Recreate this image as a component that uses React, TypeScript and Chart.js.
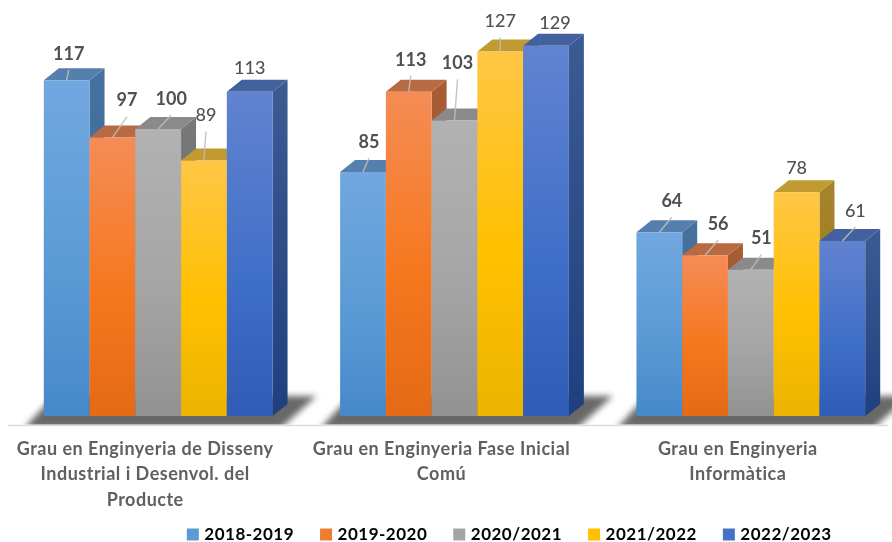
import React, { useEffect, useRef } from "react";
import { Chart, registerables } from "chart.js";

Chart.register(...registerables);

const categories = [
  ["Grau en Enginyeria de Disseny", "Industrial i Desenvol. del", "Producte"],
  ["Grau en Enginyeria Fase Inicial", "Comú"],
  ["Grau en Enginyeria", "Informàtica"],
];
const series = ["2018-2019", "2019-2020", "2020/2021", "2021/2022", "2022/2023"];
const v2018 = [117, 85, 64];
const v2019 = [97, 113, 56];
const v2020 = [100, 103, 51];
const v2021 = [89, 127, 78];
const v2022 = [113, 129, 61];
const values = [v2018, v2019, v2020, v2021, v2022];

// [front top, front mid, front bottom, side top, side bottom, top face, legend]
const palette = [
  ["#72a7e0", "#5b9bd5", "#4689cb", "#46719f", "#2f659f", "#5580ad", "#5b9bd5"],
  ["#f58c56", "#f5781f", "#e56a15", "#a65c34", "#a3521f", "#b86a40", "#ed7d31"],
  ["#b2b2b2", "#a5a5a5", "#929292", "#787878", "#666666", "#8a8a8a", "#a5a5a5"],
  ["#ffc645", "#ffc000", "#ecb400", "#a5832a", "#9a7a12", "#c29a32", "#ffc000"],
  ["#6183d0", "#4170c8", "#2e5cb6", "#3c5a92", "#1f3f7f", "#43609f", "#4472c4"],
];

// Label placement relative to each bar's top centre: [dx, dy, has leader line]
const labelPlacement: [number, number, boolean][][] = [
  [[2, -26, true], [6, -30, true], [12.5, -31, true]],
  [[14.5, -37, true], [2, -32, true], [13, -31, true]],
  [[13, -30, true], [3, -57, true], [10.5, -31, true]],
  [[2, -45, true], [0, -30, true], [0, -24, false]],
  [[0, -24, false], [9, -23, false], [13, -30, true]],
];
const boldSeries = [true, true, true, false, false];

const FONT = "Lato, 'Open Sans', sans-serif";
const DEPTH_X = 15;
const DEPTH_Y = 12;
const FLOOR_Y = 424.5;

function drawFaces(ctx: any, meta: any, colors: string[]) {
  meta.data.forEach((bar: any) => {
    const l = bar.x - bar.width / 2;
    const r = bar.x + bar.width / 2;
    const grad = ctx.createLinearGradient(0, bar.y, 0, bar.base);
    grad.addColorStop(0, colors[3]);
    grad.addColorStop(1, colors[4]);
    ctx.fillStyle = grad;
    ctx.beginPath();
    ctx.moveTo(r, bar.y);
    ctx.lineTo(r + DEPTH_X, bar.y - DEPTH_Y);
    ctx.lineTo(r + DEPTH_X, bar.base - DEPTH_Y);
    ctx.lineTo(r, bar.base);
    ctx.closePath();
    ctx.fill();
    ctx.fillStyle = colors[5];
    ctx.beginPath();
    ctx.moveTo(l, bar.y);
    ctx.lineTo(l + DEPTH_X, bar.y - DEPTH_Y);
    ctx.lineTo(r + DEPTH_X, bar.y - DEPTH_Y);
    ctx.lineTo(r, bar.y);
    ctx.closePath();
    ctx.fill();
  });
}

const scene = {
  id: "scene3d",
  beforeDraw(chart: any) {
    chart.ctx.letterSpacing = "0.5px";
  },
  afterLayout(chart: any) {
    chart.legend.left = 0;
    chart.legend.right = 999;
    chart.legend.top += 11;
    chart.scales.x.bottom = 530;
  },
  beforeDatasetDraw() {
    return false;
  },
  afterDatasetsDraw(chart: any) {
    const ctx = chart.ctx;
    const first = chart.getDatasetMeta(0).data;
    const last = chart.getDatasetMeta(series.length - 1).data;
    // floor and axis line
    ctx.save();
    ctx.strokeStyle = "#dcdcdc";
    ctx.lineWidth = 1.5;
    ctx.beginPath();
    ctx.moveTo(8, FLOOR_Y + 1);
    ctx.lineTo(888, FLOOR_Y + 1);
    ctx.stroke();
    ctx.beginPath();
    ctx.rect(0, 0, chart.width, FLOOR_Y);
    ctx.clip();
    first.forEach((bar: any, i: number) => {
      const l = bar.x - bar.width / 2;
      const r = last[i].x + last[i].width / 2;
      ctx.filter = "blur(3px)";
      ctx.fillStyle = "#686868";
      ctx.beginPath();
      ctx.moveTo(l - 20, FLOOR_Y + 4);
      ctx.lineTo(l + 10, 396);
      ctx.lineTo(r + 44, 396);
      ctx.lineTo(r + 8, FLOOR_Y + 4);
      ctx.closePath();
      ctx.fill();
      ctx.filter = "none";
    });
    ctx.restore();
    // bars, left to right so that nearer faces cover the sides of earlier ones
    series.forEach((_, s) => {
      const meta = chart.getDatasetMeta(s);
      ctx.save();
      drawFaces(ctx, meta, palette[s]);
      ctx.restore();
      ctx.save();
      meta.controller.draw();
      ctx.restore();
    });
    // value labels
    ctx.save();
    ctx.letterSpacing = "0px";
    ctx.textAlign = "center";
    ctx.textBaseline = "middle";
    values.forEach((row, s) => {
      chart.getDatasetMeta(s).data.forEach((bar: any, c: number) => {
        const [dx, dy, leader] = labelPlacement[s][c];
        if (leader) {
          ctx.strokeStyle = "rgba(190,190,190,0.9)";
          ctx.lineWidth = 1.4;
          ctx.beginPath();
          ctx.moveTo(bar.x, bar.y);
          ctx.lineTo(bar.x + dx, bar.y + dy + 16);
          ctx.stroke();
        }
        ctx.fillStyle = "#505050";
        ctx.font = `${boldSeries[s] ? "700" : "500"} 18px ${FONT}`;
        ctx.fillText(String(row[c]), bar.x + dx, bar.y + dy);
      });
    });
    ctx.restore();
  },
};

export default function App() {
  const ref = useRef<HTMLCanvasElement>(null);
  useEffect(() => {
    document.body.style.margin = "0";
    const chart = new Chart(ref.current!, {
      type: "bar",
      data: {
        labels: categories,
        datasets: series.map((name, s) => ({
          label: name,
          data: values[s],
          categoryPercentage: 0.772,
          barPercentage: 1,
          borderWidth: 0,
          backgroundColor: (c: any) => {
            const colors = palette[s];
            const y = c.chart.scales.y;
            if (c.type !== "data" || !y) return colors[6];
            const y0 = y.getPixelForValue(values[s][c.dataIndex]);
            const y1 = y.getPixelForValue(0);
            if (!Number.isFinite(y0) || !Number.isFinite(y1)) return colors[6];
            const g = c.chart.ctx.createLinearGradient(0, y0, 0, y1);
            g.addColorStop(0, colors[0]);
            g.addColorStop(0.55, colors[1]);
            g.addColorStop(1, colors[2]);
            return g;
          },
        })),
      },
      options: {
        responsive: false,
        animation: false,
        layout: { padding: { left: 10, right: 0, top: 14.2, bottom: 0 } },
        scales: {
          y: { display: false, min: 0, max: 140 },
          x: {
            afterFit: (scale: any) => {
              scale.height = 70;
            },
            grid: { display: false },
            border: { display: false },
            ticks: {
              autoSkip: false,
              maxRotation: 0,
              minRotation: 0,
              padding: 12,
              labelOffset: -13,
              color: "#606060",
              font: { family: FONT, size: 18, weight: "700", lineHeight: 1.42 },
            },
          },
        },
        plugins: {
          tooltip: { enabled: false },
          title: { display: false },
          legend: {
            position: "bottom",
            labels: {
              boxWidth: 6,
              boxHeight: 6,
              padding: 29,
              color: "#606060",
              font: { family: FONT, size: 17, weight: "700" },
              generateLabels: () =>
                series.map((name, s) => ({
                  text: name,
                  fillStyle: palette[s][6],
                  strokeStyle: palette[s][6],
                  lineWidth: 6,
                  datasetIndex: s,
                })),
            },
          },
        },
      },
      plugins: [scene],
    } as any);
    return () => chart.destroy();
  }, []);
  return (
    <div style={{ width: 892, height: 542, overflow: "hidden" }}>
      <canvas ref={ref} width={899} height={542} style={{ display: "block", filter: "blur(0.5px)" }} />
    </div>
  );
}
